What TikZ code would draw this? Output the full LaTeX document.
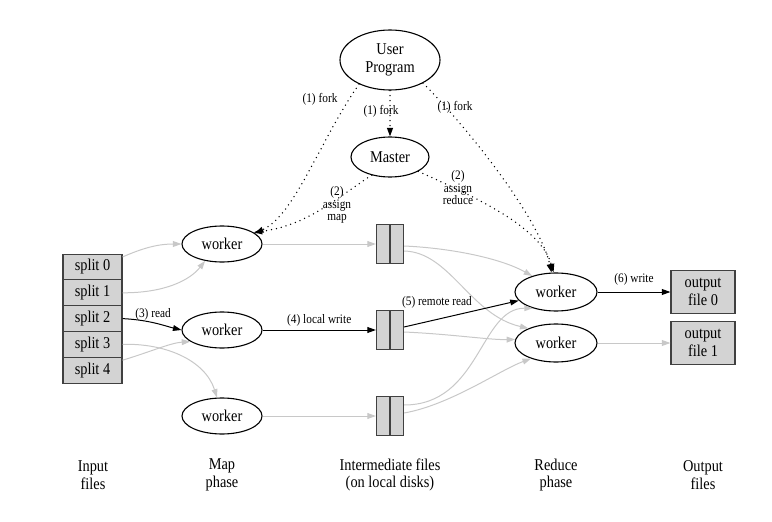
\documentclass[tikz,border=0pt]{standalone}
\usepackage{fontspec}
\setmainfont{Liberation Serif}[FakeStretch=0.87]
\usetikzlibrary{positioning,arrows.meta,shapes.geometric}
\definecolor{edgegray}{RGB}{200,200,200}
\definecolor{boxgray}{RGB}{211,211,211}
\newcommand{\mainsize}{\fontsize{16.5}{17.5}\selectfont}
\newcommand{\labsize}{\fontsize{13}{12.5}\selectfont}

\begin{document}
\begin{tikzpicture}[x=1pt,y=-1pt,on grid,
    proc/.style={ellipse,draw,line width=1.1pt,minimum width=80pt,minimum height=36pt,inner sep=0pt,align=center,font=\mainsize},
    split/.style={rectangle,draw=black!75,fill=boxgray,line width=1.1pt,minimum width=59pt,minimum height=25.8pt,inner sep=0pt,font=\mainsize},
    outfile/.style={split,minimum width=64pt,minimum height=43pt,align=center},
    disk/.style={rectangle,draw=black!75,fill=boxgray,line width=1.1pt,minimum width=27pt,minimum height=39pt,inner sep=0pt,
      path picture={\draw[black!75,line width=1.1pt] (path picture bounding box.north) -- (path picture bounding box.south);}},
    tip/.style={-{Triangle[length=8.5pt,width=5.8pt]}},
    data/.style={tip,line width=1pt},
    faint/.style={tip,edgegray,line width=1pt},
    ctrl/.style={tip,line width=1.5pt,dash pattern=on 0pt off 5pt,line cap=round},
    lab/.style={font=\labsize,align=center,inner sep=1pt},
    phase/.style={font=\mainsize,align=center}]
  \useasboundingbox (0,0) rectangle (772,522);

  \node[proc,minimum width=100pt,minimum height=60pt] (up) at (390,60) {User\\Program};
  \node[proc,minimum width=78pt,minimum height=40pt,below=97pt of up] (master) {Master};

  \node[split] (s0) at (92.5,267) {split 0};
  \node[split,below=25.8pt of s0] (s1) {split 1};
  \node[split,below=25.8pt of s1] (s2) {split 2};
  \node[split,below=25.8pt of s2] (s3) {split 3};
  \node[split,below=25.8pt of s3] (s4) {split 4};

  \node[proc] (m1) at (222,244) {worker};
  \node[proc,below=86pt of m1] (m2) {worker};
  \node[proc,below=86pt of m2] (m3) {worker};

  \node[disk,right=168pt of m1] (f1) {};
  \node[disk,right=168pt of m2] (f2) {};
  \node[disk,right=168pt of m3] (f3) {};

  \node[proc,minimum width=82pt,minimum height=38pt] (r1) at (556,292) {worker};
  \node[proc,minimum width=82pt,minimum height=38pt,below=51pt of r1] (r2) {worker};

  \node[outfile,right=147pt of r1] (o0) {output\\file 0};
  \node[outfile,right=147pt of r2] (o1) {output\\file 1};

  \node[phase] (pin) at (93,475) {Input\\files};
  \node[phase] (pmap) at (222,475) {Map\\phase};
  \node[phase] (pmid) at (390,475) {Intermediate files\\(on local disks)};
  \node[phase] (pred) at (556,475) {Reduce\\phase};
  \node[phase] (pout) at (703,475) {Output\\files};

  \draw[ctrl] (up.218) .. controls (320,140) and (295,215) .. (m1.18);
  \draw[ctrl] (up) -- (master);
  \draw[ctrl] (up.-35) .. controls (470,130) and (540,220) .. (r1.103);
  \draw[ctrl] (master.225) .. controls (340,195) and (310,225) .. (m1.20);
  \draw[ctrl] (master.-27) .. controls (470,195) and (540,225) .. (r1.97);
  \node[lab] (lfork1) at (320,99) {(1) fork};
  \node[lab] (lfork2) at (381,111) {(1) fork};
  \node[lab] (lfork3) at (455,107) {(1) fork};
  \node[lab] (lmap) at (337,205) {(2)\\assign\\map};
  \node[lab] (lred) at (458,188) {(2)\\assign\\reduce};

  \draw[faint] ([yshift=10pt]s0.east) .. controls (145,247) and (160,244) .. (m1.west);
  \draw[faint] (s1.east) .. controls (165,293) and (190,280) .. (m1.225);
  \draw[data] (s2.east) .. controls (150,320) and (165,326) .. (m2.west);
  \draw[faint] (s3.east) .. controls (165,343) and (205,360) .. (m3.105);
  \draw[faint] ([yshift=10pt]s4.east) .. controls (150,352) and (170,343) .. (m2.200);
  \node[lab] (lread) at (153,314) {(3) read};

  \draw[faint] (m1) -- (f1);
  \draw[data] (m2) -- node[lab,above=2pt] {(4) local write} (f2);
  \draw[faint] (m3) -- (f3);

  \draw[faint] ([yshift=-2pt]f1.east) .. controls (450,248) and (500,258) .. (r1.146);
  \draw[faint] ([yshift=-7pt]f1.east) .. controls (450,252) and (470,315) .. (r2.152);
  \draw[data] ([yshift=3pt]f2.east) -- (r1.193);
  \draw[faint] ([yshift=-2pt]f2.east) .. controls (450,334) and (490,340) .. (r2.175);
  \draw[faint] ([yshift=11pt]f3.east) .. controls (480,405) and (480,308) .. (r1.215);
  \draw[faint] ([yshift=3pt]f3.east) .. controls (450,405) and (500,370) .. (r2.212);
  \node[lab] (lremote) at (437,302) {(5) remote read};

  \draw[data] (r1) -- node[lab,above=5pt] {(6) write} (o0);
  \draw[faint] (r2) -- (o1);
\end{tikzpicture}
\end{document}
